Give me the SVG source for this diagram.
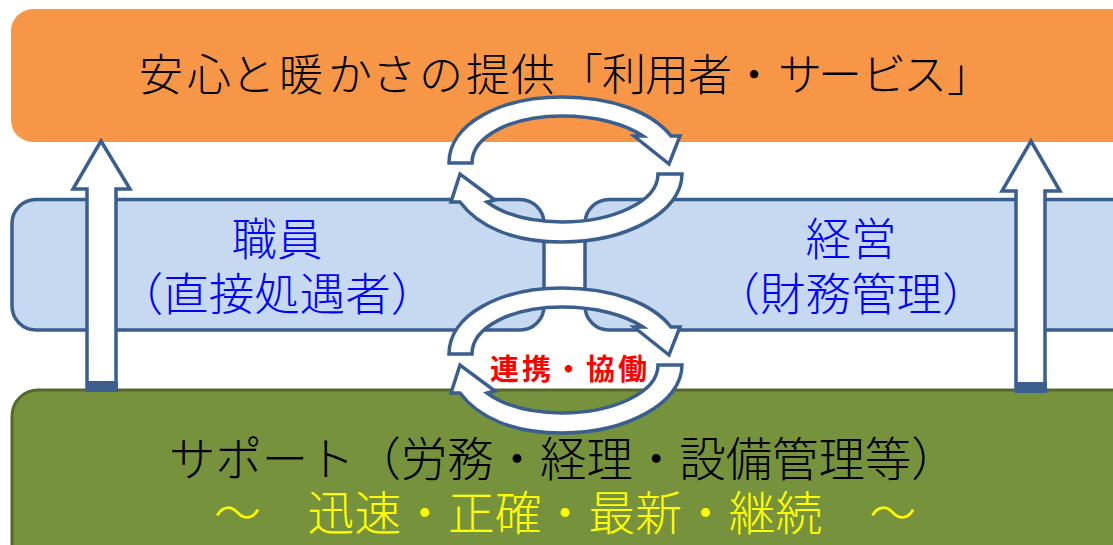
<svg xmlns="http://www.w3.org/2000/svg" width="1113" height="545" viewBox="0 0 1113 545">
<defs><style>
.t{font-family:"Noto Sans CJK JP","Liberation Serif",serif;font-size:46.3px;font-weight:300}
.n{font-size:45.500px}
.a{fill:#fff;stroke:#3a5f8f;stroke-width:3.5;stroke-linejoin:miter}
.b{fill:#c6d9f1;stroke:#3a5f8f;stroke-width:3.5}
</style>
<path id="c1" d="M449 163C449 124 500 97 562 97C612 97 652 112 671 136H680L669 164L634 136L643 136C625 124 596 116 562 116C512 116 472 136 472 163Z"/>
<path id="c2" d="M682 174C682 213 625 242 562 242C512 242 478 226 460 202H451L460 174L495 200L487 202C505 215 532 222 562 222C612 222 658 202 658 174Z"/>
</defs>
<rect width="1113" height="545" fill="#fff"/>
<g id="top"><rect x="11" y="9" width="1130" height="133" rx="22" fill="#f79646"/><text class="t" style="font-size:44px" y="91" x="139 187 231 279 328 372 419 466 511 559 602 645 688 732 778 818 862 903 947">安心と暖かさの提供「利用者・サービス」</text></g>
<g id="staff"><rect class="b" x="12" y="199.500" width="532" height="130.500" rx="24"/><text class="t n" text-anchor="middle" fill="#0000ff"><tspan x="277" y="256">職員</tspan><tspan x="277" y="311">（直接処遇者）</tspan></text></g>
<g id="mgmt"><rect class="b" x="585" y="199.500" width="560" height="130.500" rx="24"/><text class="t n" text-anchor="middle" fill="#0000ff"><tspan x="851" y="256">経営</tspan><tspan x="851" y="311">（財務管理）</tspan></text></g>
<g id="support"><rect x="12" y="390" width="1130" height="180" rx="26" fill="#76923c" stroke="#56682c" stroke-width="3"/><text class="t"><tspan x="169" y="476" style="font-size:46.4px">サポート（労務・経理・設備管理等）</tspan><tspan x="214" y="530" fill="#ffff00" style="font-size:46.8px">～　迅速・正確・最新・継続　～</tspan></text></g>
<g id="connectors">
<path class="a" d="M101 141L130 189H116V390H87V189H73Z"/><rect x="86" y="381" width="32" height="11" fill="#3a5f8f"/>
<path class="a" d="M1031 141L1060 191H1045V391H1016V191H1002Z"/><rect x="1015" y="382" width="32" height="11" fill="#3a5f8f"/>
<use href="#c1" class="a"/><use href="#c2" class="a"/>
<use href="#c1" class="a" y="191"/><use href="#c2" class="a" y="191"/>
</g>
<text id="label" x="570" y="380" text-anchor="middle" font-family="Noto Sans CJK JP,sans-serif" font-size="29" letter-spacing="3" font-weight="700" fill="#ff0000">連携・協働</text>
</svg>
